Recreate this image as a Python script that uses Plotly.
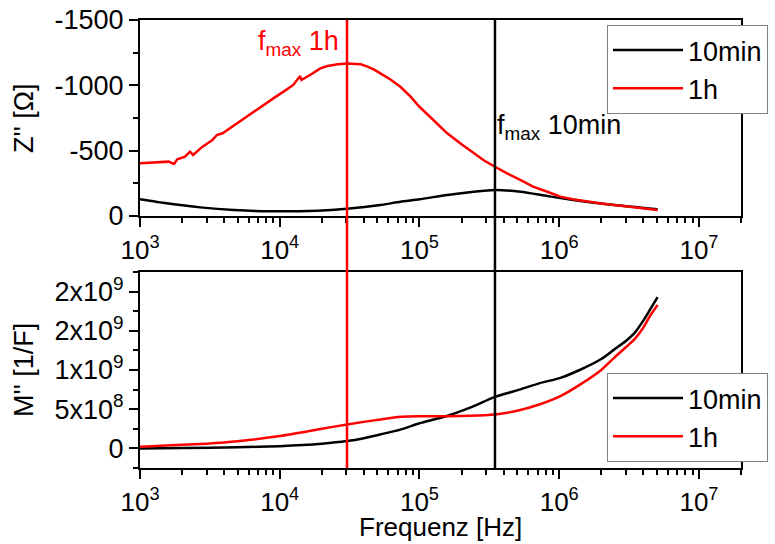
import plotly.graph_objects as go

# ---- Z'' spectra (top panel) ----
freq_z_1h = [1000, 1300, 1600, 1750, 1850, 2100, 2280, 2400, 2800, 3300, 3550, 3900,
             4500, 5500, 7500, 9000, 10650, 12500, 14000, 14300, 16500, 19500, 22000,
             26000, 30300, 34000, 38000, 42000, 47000, 52500, 62000, 73000, 86000,
             100000, 125000, 158000, 200000, 245000, 290000, 347000, 430000, 530000,
             650000, 822000, 1.02e6, 1.25e6, 1.58e6, 2e6, 2.47e6, 3.5e6, 5.06e6]
z_1h = [-403, -408, -416, -398, -434, -454, -492, -467, -531, -582, -620, -633,
        -679, -747, -842, -900, -952, -1003, -1071, -1041, -1079, -1130, -1148,
        -1162, -1168, -1167, -1161, -1145, -1122, -1092, -1045, -989, -915,
        -836, -735, -633, -550, -480, -425, -377, -322, -275,
        -225, -186, -148, -128, -109, -95, -84, -63, -46]

freq_z_10min = [1000, 1550, 2700, 4700, 8900, 18500, 30300, 52500, 73000, 100000,
                158000, 245000, 347000, 530000, 822000, 1.26e6, 2.47e6, 5.06e6]
z_10min = [-128, -97, -66, -46, -36, -41, -56, -84, -109, -128,
           -161, -186, -199, -186, -153, -122, -84, -52]

# ---- M'' spectra (bottom panel) ----
freq_m_10min = [1000, 2000, 5000, 10000, 20000, 30300, 40000, 52500, 73000, 100000,
                155000, 230000, 347000, 500000, 720000, 1.02e6, 1.4e6, 2e6, 2.47e6,
                3.0e6, 3.45e6, 4.0e6, 4.5e6, 5.06e6]
m_10min = [0, 4e6, 1.4e7, 2.9e7, 6e7, 9.3e7, 1.3e8, 1.78e8, 2.4e8, 3.2e8,
           4.1e8, 5.2e8, 6.58e8, 7.4e8, 8.3e8, 9.0e8, 1.0e9, 1.14e9, 1.26e9,
           1.37e9, 1.47e9, 1.63e9, 1.78e9, 1.93e9]
freq_m_1h = [1000, 2000, 3000, 5000, 10000, 20000, 30300, 52500, 73000, 100000,
             155000, 230000, 347000, 500000, 720000, 1.02e6, 1.4e6, 2e6, 2.47e6,
             3.0e6, 3.45e6, 4.0e6, 4.5e6, 5.06e6]
m_1h = [2.1e7, 4.5e7, 6e7, 9e7, 1.57e8, 2.5e8, 3.06e8, 3.7e8, 4.03e8, 4.1e8,
        4.1e8, 4.15e8, 4.33e8, 4.8e8, 5.6e8, 6.67e8, 8.1e8, 1.0e9, 1.155e9,
        1.29e9, 1.39e9, 1.54e9, 1.7e9, 1.83e9]

# characteristic frequencies (peak of Z'')
fmax_1h = 3.03e4
fmax_10min = 3.47e5

series_names = ["10min", "1h"]

# axis ticks
x_ticks = [1e3, 1e4, 1e5, 1e6, 1e7]
x_ticktext = ["10<sup>3</sup>", "10<sup>4</sup>", "10<sup>5</sup>", "10<sup>6</sup>", "10<sup>7</sup>"]
x_minor = [m * 10 ** e for e in range(3, 8) for m in range(2, 10) if m * 10 ** e <= 2e7]
z_ticks = [0, -500, -1000, -1500]
z_ticktext = ["0", "-500", "-1000", "-1500"]
z_minor = [-250, -750, -1250]
m_ticks = [0, 5e8, 1e9, 1.5e9, 2e9]
m_ticktext = ["0", "5x10<sup>8</sup>", "1x10<sup>9</sup>", "2x10<sup>9</sup>", "2x10<sup>9</sup>"]
m_minor = [-2.5e8, 2.5e8, 7.5e8, 1.25e9, 1.75e9, 2.25e9]

W, H = 775, 544
FONT = "Arial, Liberation Sans, sans-serif"
BLACK, RED = "#000000", "#ff0000"
TICK_SIZE = 27
TEXT_SIZE = 27


def px_x(p):
    return p / W


def px_y(p):
    return 1 - p / H


fig = go.Figure()
fig.add_trace(go.Scatter(x=freq_z_10min, y=z_10min, name=series_names[0], mode="lines",
                         line=dict(color=BLACK, width=2.5, shape="spline", smoothing=0.6),
                         xaxis="x", yaxis="y", legend="legend"))
fig.add_trace(go.Scatter(x=freq_z_1h, y=z_1h, name=series_names[1], mode="lines",
                         line=dict(color=RED, width=2.5), xaxis="x", yaxis="y", legend="legend"))
fig.add_trace(go.Scatter(x=freq_m_10min, y=m_10min, name=series_names[0], mode="lines",
                         line=dict(color=BLACK, width=2.5, shape="spline", smoothing=0.6),
                         xaxis="x2", yaxis="y2", legend="legend2"))
fig.add_trace(go.Scatter(x=freq_m_1h, y=m_1h, name=series_names[1], mode="lines",
                         line=dict(color=RED, width=2.5, shape="spline", smoothing=0.6),
                         xaxis="x2", yaxis="y2", legend="legend2"))

xdom = [px_x(140), px_x(741)]
common_x = dict(type="log", range=[3, 7.301], domain=xdom, tickvals=x_ticks, ticktext=x_ticktext,
                ticks="outside", ticklen=9, tickwidth=2, tickcolor=BLACK, ticklabelstandoff=1,
                minor=dict(tickvals=x_minor, ticks="outside", ticklen=5, tickwidth=2, tickcolor=BLACK),
                showline=True, linewidth=2, linecolor=BLACK, mirror=True, showgrid=False,
                zeroline=False, automargin=False,
                tickfont=dict(family=FONT, size=26, color=BLACK))
common_y = dict(ticks="outside", ticklen=9, tickwidth=2, tickcolor=BLACK,
                showline=True, linewidth=2, linecolor=BLACK, mirror=True, showgrid=False,
                zeroline=False, automargin=False,
                tickfont=dict(family=FONT, size=TICK_SIZE, color=BLACK))

fig.update_layout(
    width=W, height=H, margin=dict(l=0, r=0, t=0, b=0, autoexpand=False),
    paper_bgcolor="white", plot_bgcolor="white",
    font=dict(family=FONT, color=BLACK),
    xaxis=dict(common_x, anchor="y"),
    yaxis=dict(common_y, range=[0, -1500], domain=[px_y(216), px_y(20)], anchor="x",
               tickvals=z_ticks, ticktext=z_ticktext,
               minor=dict(tickvals=z_minor, ticks="outside", ticklen=5, tickwidth=2, tickcolor=BLACK)),
    xaxis2=dict(common_x, anchor="y2"),
    yaxis2=dict(common_y, range=[-2.5e8, 2.25e9], domain=[px_y(468), px_y(272)], anchor="x2",
                tickvals=m_ticks, ticktext=m_ticktext,
                minor=dict(tickvals=m_minor, ticks="outside", ticklen=5, tickwidth=2, tickcolor=BLACK)),
    legend=dict(x=px_x(607), y=px_y(25), xanchor="left", yanchor="top",
                bgcolor="white", bordercolor="#808080", borderwidth=1,
                font=dict(family=FONT, size=TEXT_SIZE, color=BLACK), itemwidth=70),
    legend2=dict(x=px_x(607), y=px_y(373), xanchor="left", yanchor="top",
                 bgcolor="white", bordercolor="#808080", borderwidth=1,
                 font=dict(family=FONT, size=TEXT_SIZE, color=BLACK), itemwidth=70),
    showlegend=True,
)

# vertical markers at the characteristic frequencies, through both panels
for f, col in [(fmax_1h, RED), (fmax_10min, BLACK)]:
    fig.add_shape(type="line", xref="x", yref="paper", x0=f, x1=f,
                  y0=px_y(468), y1=px_y(20), line=dict(color=col, width=2.5), layer="above")

fig.add_annotation(text="f<sub>max</sub> 1h", xref="paper", yref="paper",
                   x=px_x(341), y=px_y(43), xanchor="right", yanchor="middle", showarrow=False,
                   font=dict(family=FONT, size=TEXT_SIZE, color=RED))
fig.add_annotation(text="f<sub>max</sub> 10min", xref="paper", yref="paper",
                   x=px_x(495), y=px_y(127), xanchor="left", yanchor="middle", showarrow=False,
                   font=dict(family=FONT, size=TEXT_SIZE, color=BLACK))

# axis titles
fig.add_annotation(text="Z'' [Ω]", xref="paper", yref="paper", x=px_x(24), y=px_y(118),
                   textangle=-90, showarrow=False, xanchor="center", yanchor="middle",
                   font=dict(family=FONT, size=TEXT_SIZE, color=BLACK))
fig.add_annotation(text="M'' [1/F]", xref="paper", yref="paper", x=px_x(24), y=px_y(370),
                   textangle=-90, showarrow=False, xanchor="center", yanchor="middle",
                   font=dict(family=FONT, size=TEXT_SIZE, color=BLACK))
fig.add_annotation(text="Frequenz [Hz]", xref="paper", yref="paper", x=px_x(440), y=0,
                   showarrow=False, xanchor="center", yanchor="bottom", yshift=0,
                   font=dict(family=FONT, size=26, color=BLACK))

fig.write_html("out.html")
